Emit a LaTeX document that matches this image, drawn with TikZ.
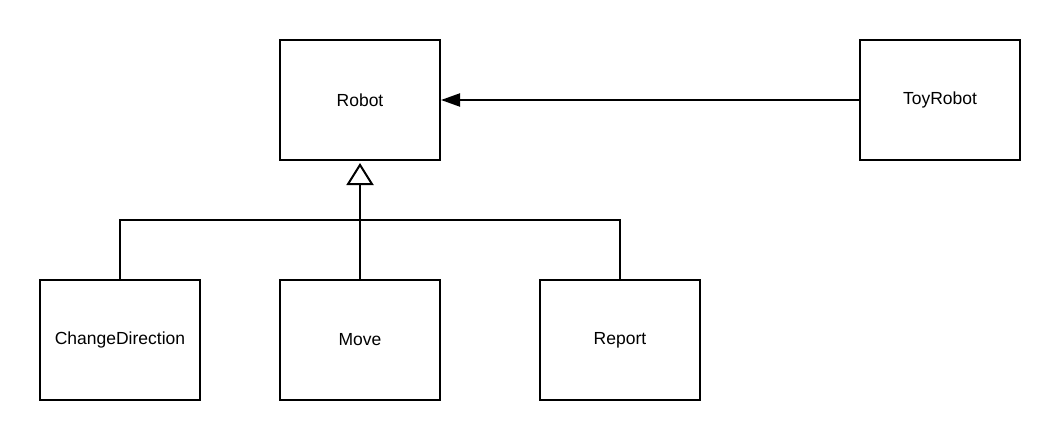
\documentclass[tikz,border=0pt]{standalone}
\usepackage{fontspec}
\setmainfont{Liberation Sans}
\usetikzlibrary{arrows.meta}
\begin{document}
\begin{tikzpicture}[x=1pt,y=-1pt,
  cls/.style={draw,line width=2pt,minimum width=160pt,minimum height=120pt,inner sep=0pt,font=\fontsize{17.5}{20}\selectfont},
  conn/.style={line width=2pt}]
\useasboundingbox[fill=white] (0,0) rectangle (1060,441);
\node[cls] (robot) at (360,100) {Robot};
\node[cls] (toy) at (940,100) {ToyRobot};
\node[cls] (cd) at (120,340) {ChangeDirection};
\node[cls] (move) at (360,340) {Move};
\node[cls] (report) at (620,340) {Report};
\coordinate (j) at (360,220);
\draw[conn,-{Triangle[open,length=22pt,width=27pt,line width=2pt]},shorten >=2pt] (move.north) -- (robot.south);
\draw[conn] (cd.north) |- (j) -| (report.north);
\draw[conn,-{Triangle[length=19pt,width=13pt]}] (toy.west) -- (robot.east);
\end{tikzpicture}
\end{document}
